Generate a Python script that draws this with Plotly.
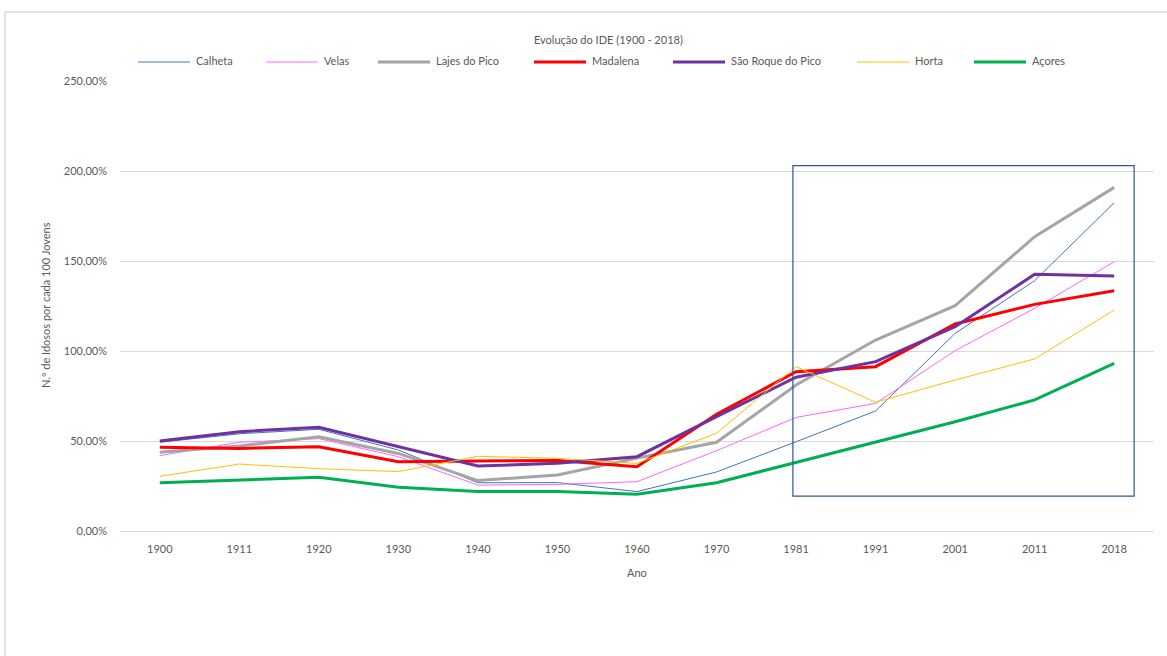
import plotly.graph_objects as go

# ---- data ----
anos = ["1900", "1911", "1920", "1930", "1940", "1950", "1960",
        "1970", "1981", "1991", "2001", "2011", "2018"]

calheta = [49.3, 54.0, 56.5, 45.0, 26.8, 26.9, 21.9, 32.8, 49.6, 66.7, 109.8, 139.1, 182.4]
velas = [41.9, 49.3, 51.3, 41.3, 25.5, 25.9, 27.4, 44.6, 63.1, 70.9, 100.2, 123.7, 149.6]
lajes = [43.7, 47.2, 52.4, 43.1, 28.0, 31.1, 40.5, 49.3, 81.1, 106.1, 125.2, 163.5, 190.9]
madalena = [46.5, 45.9, 46.8, 38.5, 38.9, 39.1, 35.7, 64.8, 88.5, 91.3, 115.0, 125.9, 133.5]
sao_roque = [50.0, 55.2, 57.6, 46.8, 36.1, 37.6, 41.3, 63.5, 85.4, 94.1, 113.5, 142.6, 141.7]
horta = [30.4, 37.2, 34.6, 33.0, 41.5, 40.4, 37.6, 54.3, 91.3, 71.5, 83.9, 95.6, 122.8]
acores = [26.8, 28.3, 29.8, 24.3, 21.9, 21.9, 20.4, 26.8, 38.0, 49.1, 60.7, 72.8, 93.1]

series_names = ["Calheta", "Velas", "Lajes do Pico", "Madalena",
                "São Roque do Pico", "Horta", "Açores"]
series_values = [calheta, velas, lajes, madalena, sao_roque, horta, acores]

# ---- styles ----
colors = ["#4472C4", "#FF66FF", "#A5A5A5", "#FF0000", "#7030A0", "#FFC000", "#00B050"]
widths = [1, 1, 3, 3, 3, 1, 3]
legend_line_x = [138, 266, 378, 534, 673, 857, 974]  # pixel positions of legend items
FONT = "Lato"
TXT = "#595959"

W, H = 1167, 656
L, R, T, B = 120, 13, 81, 125
PW, PH = W - L - R, H - T - B


def px(xp):
    return (xp - L) / PW


def py(yp):
    return (H - B - yp) / PH


fig = go.Figure()
for name, vals, c, w in zip(series_names, series_values, colors, widths):
    fig.add_trace(go.Scatter(
        x=anos, y=vals, name=name, mode="lines",
        line=dict(color=c, width=w),
        hovertemplate="%{x}: %{y:.2f}%<extra>" + name + "</extra>",
    ))

shapes = []
annotations = []

# chart-area border (extends beyond image on right/bottom)
shapes.append(dict(type="rect", xref="paper", yref="paper",
                   x0=px(5), x1=px(1175), y0=py(670), y1=py(12),
                   line=dict(color="#D9D9D9", width=1.5), layer="below"))

# highlight rectangle
shapes.append(dict(type="rect", xref="x", yref="y",
                   x0=7.96, x1=12.25, y0=19.4, y1=203.0,
                   line=dict(color="#2F5597", width=1.2)))

# manual legend
for name, c, w, lx in zip(series_names, colors, widths, legend_line_x):
    shapes.append(dict(type="line", xref="paper", yref="paper",
                       x0=px(lx), x1=px(lx + 52), y0=py(62), y1=py(62),
                       line=dict(color=c, width=w)))
    annotations.append(dict(text=name, xref="paper", yref="paper",
                            x=px(lx + 56), y=py(60), xanchor="left", yanchor="middle",
                            showarrow=False, font=dict(family=FONT, size=11, color=TXT)))

# title
annotations.append(dict(text="Evolução do IDE (1900 - 2018)", xref="paper", yref="paper",
                        x=px(608), y=py(40), xanchor="center", yanchor="middle",
                        showarrow=False, font=dict(family=FONT, size=11, color=TXT)))
# axis titles
annotations.append(dict(text="N.º de Idosos por cada 100 Jovens", xref="paper", yref="paper",
                        x=px(45), y=py(305), xanchor="center", yanchor="middle", textangle=-90,
                        showarrow=False, font=dict(family=FONT, size=11, color=TXT)))
annotations.append(dict(text="Ano", xref="paper", yref="paper",
                        x=px(637), y=py(572), xanchor="center", yanchor="middle",
                        showarrow=False, font=dict(family=FONT, size=11, color=TXT)))

fig.update_layout(
    width=W, height=H,
    margin=dict(l=L, r=R, t=T, b=B, pad=0),
    paper_bgcolor="white", plot_bgcolor="white",
    showlegend=False,
    separators=",.",
    font=dict(family=FONT, size=11, color=TXT),
    shapes=shapes, annotations=annotations,
    xaxis=dict(type="category", range=[-0.5, 12.5], showgrid=False, showline=False,
               zeroline=False, ticks="", ticklabelstandoff=10,
               tickfont=dict(family=FONT, size=11, color=TXT), fixedrange=True),
    yaxis=dict(range=[0, 250], dtick=50, tickformat=".2f", ticksuffix="%",
               showgrid=True, gridcolor="#D9D9D9", gridwidth=1,
               zeroline=True, zerolinecolor="#D9D9D9", zerolinewidth=1,
               showline=False, ticks="", ticklabelstandoff=12,
               tickfont=dict(family=FONT, size=11, color=TXT), fixedrange=True),
)

fig.write_html(
    "out.html",
    config={"displayModeBar": False},
    post_script="document.body.style.margin='0';document.body.style.overflow='hidden';",
)
